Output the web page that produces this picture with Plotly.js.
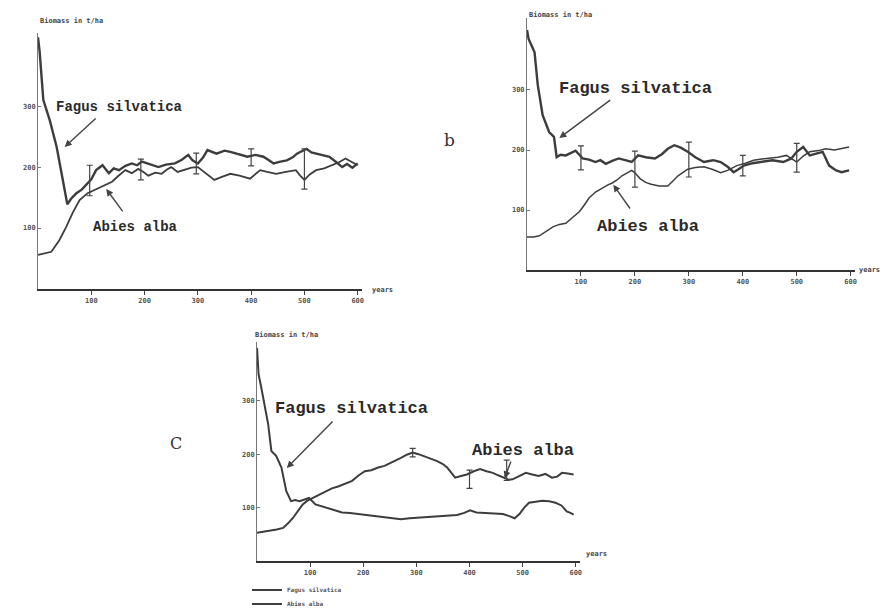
<!DOCTYPE html>
<html>
<head>
<meta charset="utf-8">
<script src="https://cdn.plot.ly/plotly-3.0.1.min.js"></script>
<style>html,body{margin:0;padding:0;background:#fff;}#chart{width:882px;height:608px;}</style>
</head>
<body>
<div id="chart"></div>
<script>
// ---------- Panel a ----------
const yearsA_fagus = [0,3,10,22,35,44,55,62,72,82,93,100,109,121,133,142,152,164,176,186,195,210,226,240,257,270,282,290,300,310,318,335,350,361,375,393,408,423,432,442,455,467,478,486,495,504,513,522,535,547,560,571,580,590,600];
const fagusA = [413,390,310,277,233,190,139,148,157,163,173,180,195,203,190,198,195,202,206,203,209,205,200,204,206,212,220,211,206,216,228,222,227,225,221,217,220,217,212,206,209,211,216,222,226,230,224,222,219,217,208,200,205,199,206];
const yearsA_abies = [0,10,25,40,53,65,78,86,93,105,121,130,139,150,164,176,188,198,207,220,232,242,250,262,275,288,300,315,331,345,361,378,398,410,417,430,447,465,484,492,500,510,522,537,552,565,577,590,600];
const abiesA = [56,58,61,80,102,125,146,152,157,162,168,172,176,185,195,190,197,192,186,191,189,196,200,192,195,199,200,190,179,184,189,186,181,190,195,192,189,192,195,186,179,188,195,198,203,208,214,207,203];
const errYearsA = [97,193,297,400,500];
const errMeanA = [178,196,206,216,197];
const errSizeA = [25,17,17,14,33];

// ---------- Panel b ----------
const yearsB_fagus = [0,3,8,14,20,29,41,50,55,62,72,80,90,97,103,115,127,136,146,158,170,182,194,206,220,237,250,261,273,285,298,312,328,345,359,372,383,392,402,418,432,455,475,490,500,512,524,536,548,560,573,583,597];
const fagusB = [400,385,375,363,308,258,230,222,188,192,191,194,199,192,186,184,180,183,177,182,186,183,180,191,188,186,193,202,208,204,197,188,180,183,180,172,163,168,174,178,180,183,180,186,197,205,191,194,197,174,166,163,166];
const yearsB_abies = [0,12,23,35,48,60,72,85,97,106,115,127,139,150,158,167,176,185,194,200,210,220,230,245,261,270,280,290,298,312,328,343,359,372,389,405,420,435,450,465,481,490,500,512,524,540,554,570,585,597];
const abiesB = [55,55,57,64,72,76,78,88,97,108,120,130,137,142,145,150,157,162,166,162,152,146,143,140,140,148,157,163,168,171,172,168,162,166,174,178,183,185,186,188,191,186,180,190,197,199,202,200,203,205];
const errYearsB = [100,200,300,400,500];
const errMeanB = [187,168,184,174,187];
const errSizeB = [20,30,29,17,24];

// ---------- Panel c ----------
const yearsC_fagus = [0,3,7,12,16,21,27,36,46,55,64,72,80,90,98,110,120,129,145,160,175,191,207,222,238,253,271,287,302,325,346,362,377,390,401,413,426,445,463,475,485,494,503,512,525,537,550,562,573,583,590,596];
const fagusC = [399,349,330,306,280,256,206,197,175,131,112,114,112,116,118,106,103,100,95,91,90,88,86,84,83,81,78,80,81,83,84,85,86,90,95,91,90,89,88,84,80,88,100,109,111,113,112,109,104,93,90,87];
const yearsC_abies = [0,12,25,37,49,58,68,77,86,95,105,117,129,141,154,166,179,191,203,215,228,240,253,262,271,282,293,304,315,327,339,349,358,366,373,384,395,408,420,432,444,455,466,474,481,494,506,518,530,543,555,565,574,585,596];
const abiesC = [53,55,56,59,62,70,81,94,106,113,118,124,131,136,140,145,150,160,168,170,175,178,184,188,193,199,203,200,196,192,187,182,175,165,156,159,162,168,172,168,165,160,156,152,153,160,165,162,159,163,156,158,165,164,162];
const errYearsC = [293,400,470];
const errMeanC = [203,153,170];
const errSizeC = [8,17,19];

const xTicks = [100,200,300,400,500,600];
const yTicks = [100,200,300];
const seriesNames = ['Fagus silvatica','Abies alba'];
const yTitle = 'Biomass in t/ha';
const xTitle = 'years';

const lineCol = '#3d3d3d';
function line(x, y, xa, ya, name, w, show, leg) {
  const t = {x:x, y:y, xaxis:xa, yaxis:ya, type:'scatter', mode:'lines', name:name,
          line:{color:lineCol, width:w}, showlegend:show, hoverinfo:'skip', cliponaxis:false};
  if (leg) t.legend = leg;
  return t;
}
function errs(x, y, e, xa, ya) {
  return {x:x, y:y, xaxis:xa, yaxis:ya, type:'scatter', mode:'markers', marker:{size:1, color:'rgba(0,0,0,0)'},
          error_y:{type:'data', array:e, visible:true, color:'#444', thickness:1.2, width:3},
          showlegend:false, hoverinfo:'skip'};
}

const data = [
  line(yearsA_fagus, fagusA, 'x', 'y', seriesNames[0], 2.4, false),
  line(yearsA_abies, abiesA, 'x', 'y', seriesNames[1], 1.8, false),
  errs(errYearsA, errMeanA, errSizeA, 'x', 'y'),
  line(yearsB_fagus, fagusB, 'x2', 'y2', seriesNames[0], 2.4, false),
  line(yearsB_abies, abiesB, 'x2', 'y2', seriesNames[1], 1.5, false),
  errs(errYearsB, errMeanB, errSizeB, 'x2', 'y2'),
  line(yearsC_fagus, fagusC, 'x3', 'y3', seriesNames[0], 2.0, true, 'legend'),
  line(yearsC_abies, abiesC, 'x3', 'y3', seriesNames[1], 2.0, true, 'legend2'),
  errs(errYearsC, errMeanC, errSizeC, 'x3', 'y3')
];

const tickFont = {family:'DejaVu Sans Mono', size:7, color:'#555', weight:'bold'};
function xax(dom, anchor) {
  return {domain:dom, anchor:anchor, range:[0,608], tickvals:xTicks, ticks:'outside', ticklen:4, tickcolor:'#444',
          showline:true, linecolor:'#333', linewidth:1.6, showgrid:false, zeroline:false, tickfont:tickFont, fixedrange:true};
}
function yax(dom, anchor, top) {
  return {domain:dom, anchor:anchor, range:[0,top], tickvals:yTicks, ticks:'inside', ticklen:3, tickcolor:'#777',
          showline:true, linecolor:'#777', linewidth:1, showgrid:false, zeroline:false, tickfont:tickFont, fixedrange:true};
}

const labFont = (s) => ({family:'Liberation Mono', size:s, color:'#2a2a2a', weight:'bold'});
const smallFont = {family:'DejaVu Sans Mono', size:7, color:'#444', weight:'bold'};
const arrowCol = '#444';
function arrow(xr, yr, hx, hy, tx, ty) {
  return {xref:xr, yref:yr, axref:xr, ayref:yr, x:hx, y:hy, ax:tx, ay:ty, text:'', showarrow:true,
          arrowhead:2, arrowsize:1, arrowwidth:1.4, arrowcolor:arrowCol};
}
function label(xr, yr, x, y, text, s) {
  return {xref:xr, yref:yr, x:x, y:y, text:text, showarrow:false, font:labFont(s)};
}

const annotations = [
  // panel a
  label('x','y',152,298,'Fagus silvatica',14),
  arrow('x','y',50,233,111,282),
  label('x','y',183,102,'Abies alba',14),
  arrow('x','y',128,164,161,125),
  // panel b
  label('x2','y2',201,303,'Fagus silvatica',17),
  arrow('x2','y2',60,220,157,285),
  label('x2','y2',225,72,'Abies alba',17),
  arrow('x2','y2',160,142,193,100),
  // panel c
  label('x3','y3',178,286,'Fagus silvatica',17),
  arrow('x3','y3',56,174,145,264),
  label('x3','y3',501,207,'Abies alba',17),
  arrow('x3','y3',466,155,479,189),
  // panel letters
  {xref:'paper', yref:'paper', x:0.510, y:0.789, text:'b', showarrow:false, font:{family:'DejaVu Serif', size:17, color:'#333'}},
  {xref:'paper', yref:'paper', x:0.190, y:0.252, text:'C', showarrow:false, font:{family:'DejaVu Serif', size:16, color:'#333'}},
  // axis titles
  {xref:'paper', yref:'paper', x:0.043, y:0.975, xanchor:'left', text:yTitle, showarrow:false, font:smallFont},
  {xref:'paper', yref:'paper', x:0.5975, y:0.985, xanchor:'left', text:yTitle, showarrow:false, font:smallFont},
  {xref:'paper', yref:'paper', x:0.287, y:0.449, xanchor:'left', text:yTitle, showarrow:false, font:smallFont},
  {xref:'paper', yref:'paper', x:0.4195, y:0.523, xanchor:'left', text:xTitle, showarrow:false, font:smallFont},
  {xref:'paper', yref:'paper', x:0.9717, y:0.556, xanchor:'left', text:xTitle, showarrow:false, font:smallFont},
  {xref:'paper', yref:'paper', x:0.662, y:0.079, xanchor:'left', text:xTitle, showarrow:false, font:smallFont}
];

const legFont = {family:'DejaVu Sans Mono', size:6, color:'#555', weight:'bold'};
const layout = {
  width:882, height:608, margin:{l:0, r:0, t:0, b:0, autoexpand:false},
  paper_bgcolor:'#ffffff', plot_bgcolor:'#ffffff',
  showlegend:true,
  legend:{x:0.28, y:0.0296, xanchor:'left', yanchor:'middle', font:legFont, bgcolor:'rgba(0,0,0,0)', itemwidth:30},
  legend2:{x:0.28, y:0.0066, xanchor:'left', yanchor:'middle', font:legFont, bgcolor:'rgba(0,0,0,0)', itemwidth:30},
  xaxis: xax([0.0431,0.4104], 'y'),
  yaxis: yax([0.5247,0.9457], 'x', 420),
  xaxis2: xax([0.5975,0.9694], 'y2'),
  yaxis2: yax([0.5559,0.9704], 'x2', 420),
  xaxis3: xax([0.2914,0.6576], 'y3'),
  yaxis3: yax([0.0773,0.4375], 'x3', 410),
  annotations: annotations
};

Plotly.newPlot('chart', data, layout, {displayModeBar:false, staticPlot:true});
</script>
</body>
</html>
